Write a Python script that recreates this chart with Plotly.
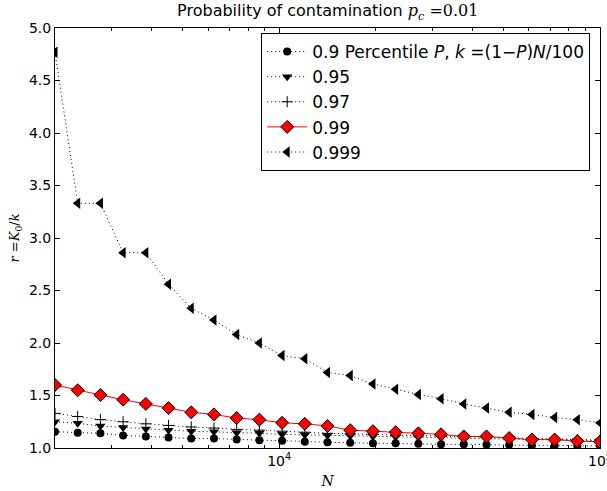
import plotly.graph_objects as go

N = [2000, 2354, 2771, 3261, 3839, 4518, 5318, 6260, 7368, 8673, 10208, 12016,
     14143, 16647, 19594, 23063, 27147, 31954, 37611, 44270, 52108, 61334,
     72193, 84975, 100000]

r_090 = [1.155, 1.145, 1.14, 1.12, 1.11, 1.10, 1.09, 1.09, 1.08, 1.075, 1.07, 1.06,
         1.055, 1.05, 1.045, 1.045, 1.04, 1.035, 1.035, 1.03, 1.03, 1.025, 1.025,
         1.02, 1.02]
r_095 = [1.25, 1.235, 1.21, 1.195, 1.18, 1.17, 1.16, 1.155, 1.145, 1.14, 1.13, 1.125,
         1.12, 1.115, 1.11, 1.105, 1.10, 1.095, 1.09, 1.09, 1.085, 1.08, 1.08,
         1.075, 1.07]
r_097 = [1.33, 1.30, 1.27, 1.25, 1.23, 1.215, 1.20, 1.19, 1.175, 1.17, 1.16, 1.15,
         1.14, 1.135, 1.13, 1.12, 1.115, 1.11, 1.105, 1.10, 1.095, 1.09, 1.085,
         1.08, 1.075]
r_099 = [1.60, 1.55, 1.505, 1.46, 1.42, 1.38, 1.34, 1.32, 1.285, 1.27, 1.24, 1.23,
         1.21, 1.17, 1.16, 1.15, 1.14, 1.13, 1.11, 1.11, 1.095, 1.08, 1.08, 1.065,
         1.06]
r_0999 = [4.77, 3.33, 3.33, 2.86, 2.86, 2.56, 2.33, 2.22, 2.08, 2.0, 1.88, 1.85,
          1.72, 1.69, 1.61, 1.56, 1.51, 1.47, 1.42, 1.38, 1.34, 1.32, 1.29, 1.27,
          1.24]

labels = ["0.9 Percentile <i>P</i>, <i>k</i> =(1\u2212<i>P</i>)<i>N</i>/100",
          "0.95", "0.97", "0.99", "0.999"]

x_major = [1e4, 1e5]
x_major_text = ["10<sup>4</sup>", "10<sup>5</sup>"]
x_minor = [3000, 4000, 5000, 6000, 7000, 8000, 9000,
           20000, 30000, 40000, 50000, 60000, 70000, 80000, 90000]

DOT = "1px,3px"
fig = go.Figure()
black = "black"
fig.add_trace(go.Scatter(x=N, y=r_090, name=labels[0], mode="lines+markers",
                         line=dict(color=black, width=1, dash=DOT),
                         marker=dict(symbol="circle", size=8, color=black)))
fig.add_trace(go.Scatter(x=N, y=r_095, name=labels[1], mode="lines+markers",
                         line=dict(color=black, width=1, dash=DOT),
                         marker=dict(symbol="triangle-down", size=9, color=black)))
fig.add_trace(go.Scatter(x=N, y=r_097, name=labels[2], mode="lines+markers",
                         line=dict(color=black, width=1, dash=DOT),
                         marker=dict(symbol="cross-thin", size=8, color=black,
                                     line=dict(color=black, width=1))))
fig.add_trace(go.Scatter(x=N, y=r_099, name=labels[3], mode="lines+markers",
                         line=dict(color="red", width=1),
                         marker=dict(symbol="diamond", size=10, color="red",
                                     line=dict(color=black, width=1))))
fig.add_trace(go.Scatter(x=N, y=r_0999, name=labels[4], mode="lines+markers",
                         line=dict(color=black, width=1, dash=DOT),
                         marker=dict(symbol="triangle-left", size=10, color=black)))

fig.update_layout(
    width=607, height=491,
    margin=dict(l=55, r=7, t=28, b=43, autoexpand=False),
    paper_bgcolor="white", plot_bgcolor="white",
    font=dict(family="DejaVu Sans", size=13, color="black"),
    title=dict(text="Probability of contamination <i><span style='font-family:DejaVu Serif'>p</span></i><sub><i><span style='font-family:DejaVu Serif'>c</span></i></sub> <span style='font-family:DejaVu Serif'>=0.01</span>",
               x=0.54, xanchor="center", y=0.978, yanchor="middle",
               font=dict(size=16)),
    showlegend=True,
    legend=dict(x=0.982, xanchor="right", y=0.988, yanchor="top",
                bgcolor="white", bordercolor=black, borderwidth=1,
                font=dict(size=17), tracegroupgap=0, itemwidth=40),
    xaxis=dict(type="log", range=[3.30103, 5], showgrid=False, zeroline=False,
               automargin=False,
               showline=True, linecolor=black, linewidth=1, mirror="ticks",
               ticks="inside", ticklen=5, tickcolor=black,
               tickmode="array", tickvals=x_major, ticktext=x_major_text,
               ticklabeloverflow="allow",
               minor=dict(tickmode="array", tickvals=x_minor, ticks="inside",
                          ticklen=3, tickcolor=black, showgrid=False),
               title=dict(text="<i><span style='font-family:DejaVu Serif'>N</span></i>",
                          font=dict(size=14), standoff=8),
               tickfont=dict(size=14)),
    yaxis=dict(range=[1, 5], dtick=0.5, tickformat=".1f", showgrid=False,
               automargin=False,
               zeroline=False, showline=True, linecolor=black, linewidth=1,
               mirror="ticks", ticks="inside", ticklen=5, tickcolor=black,
               title=dict(text="<i>r</i> =<i>K</i><sub>0</sub>/<i>k</i>",
                          font=dict(family="DejaVu Serif", size=13), standoff=6),
               tickfont=dict(size=14)),
)

fig.write_html("out.html")
